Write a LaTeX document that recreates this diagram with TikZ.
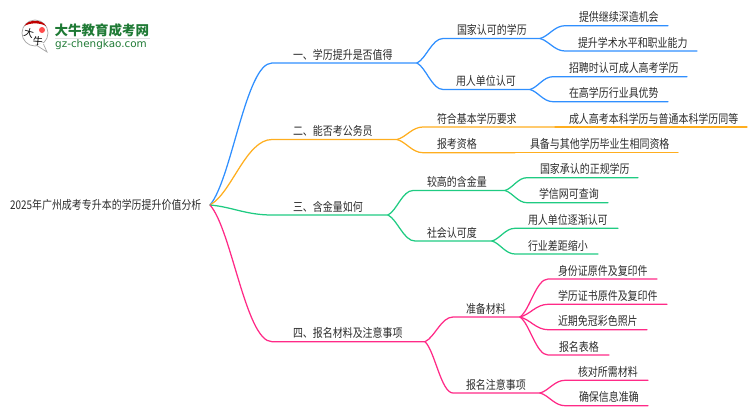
\documentclass[tikz,border=0pt]{standalone}
\usepackage{fontspec}
\setmainfont[FakeStretch=0.83]{Noto Sans CJK SC}
\newfontfamily\plainfont{Noto Sans CJK SC}
\newfontfamily\urlfont{DejaVu Sans}
\usetikzlibrary{calc}
\definecolor{cblue}{HTML}{2F8FFF}
\definecolor{corange}{HTML}{FFAE1F}
\definecolor{cgreen}{HTML}{1FCB82}
\definecolor{cpink}{HTML}{FF2A87}
\definecolor{ctext}{HTML}{2B2B2B}
\definecolor{clogo}{HTML}{1F7A35}
\tikzset{
  mapnode/.style={anchor=south west,inner xsep=0pt,inner ysep=3.9pt,outer sep=0pt,text height=10pt,text depth=0pt,text=ctext,font=\fontsize{12pt}{14pt}\selectfont},
  rootnode/.style={anchor=west,inner sep=0pt,outer sep=0pt,text=ctext,font=\fontsize{12pt}{14pt}\selectfont},
  link/.style={line width=1.25pt,line cap=round,line join=round},
}
% \mn{name}{x0}{x1}{y}{textx}{text}
\newcommand{\mn}[6]{\node[mapnode] (#1) at (#2,#4) {\makebox[\dimexpr #3pt-#2pt\relax][l]{\hspace*{\dimexpr #5pt-#2pt\relax}#6}};}
\begin{document}
\begin{tikzpicture}[x=1pt,y=-1pt]
\useasboundingbox (0,0) rectangle (750,410);
% logo
\fill[white,draw=black!35,line width=0.7pt] (35,33) circle (13);
\fill[white,draw=black!35,line width=0.7pt] (36,45) -- (47,52) -- (43,43) -- cycle;
\fill[white] (37,43.5) -- (44,43) -- (42,46) -- cycle;
\fill[red!75!black] (24.5,26) .. controls (28,19) and (42,19) .. (46,26) .. controls (40,22.5) and (30,22.5) .. (24.5,26) -- cycle;
\fill[red!70] (42,30) circle (3);
\node[inner sep=0pt,font=\plainfont\fontsize{10pt}{10pt}\selectfont,rotate=-15] (logoa) at (29,33) {大};
\node[inner sep=0pt,font=\plainfont\fontsize{10pt}{10pt}\selectfont,rotate=-5] (logob) at (38,41) {牛};
\node[anchor=west,inner sep=0pt,text=clogo,font=\plainfont\fontsize{13.5pt}{14pt}\selectfont\bfseries] (logot) at (54.5,30) {大牛教育成考网};
\draw[black!12,line width=0.8pt] (55,38.5) -- (150,38.5);
\node[anchor=west,inner sep=0pt,text=clogo,font=\urlfont\fontsize{10.4pt}{11pt}\selectfont] (logou) at (55,45) {gz-chengkao.com};
% nodes
\node[rootnode] (root) at (10,205) {\makebox[200pt][l]{\raisebox{-1.4pt}{2025年广州成考专升本的学历提升价值分析}}};
\mn{n1}{272}{417}{63}{293}{一、学历提升是否值得}
\mn{n2}{272}{397}{139.5}{293}{二、能否考公务员}
\mn{n3}{272}{388}{215}{293}{三、含金量如何}
\mn{n4}{272}{425}{341.7}{293}{四、报名材料及注意事项}
\mn{n11}{443}{540}{38.5}{457}{国家认可的学历}
\mn{n12}{443}{530}{89.5}{456}{用人单位认可}
\mn{n111}{565}{668}{25.7}{579}{提供继续深造机会}
\mn{n112}{565}{697}{51}{578}{提升学术水平和职业能力}
\mn{n121}{553}{687}{76.7}{569}{招聘时认可成人高考学历}
\mn{n122}{553}{668}{101.7}{569}{在高学历行业具优势}
\mn{n21}{423}{555}{127}{437}{符合基本学历要求}
\mn{n22}{423}{515}{152.7}{437}{报考资格}
\mn{n211}{555}{747}{127}{569}{成人高考本科学历与普通本科学历同等}
\mn{n221}{515}{678}{152.7}{530}{具备与其他学历毕业生相同资格}
\mn{n31}{413}{505}{190.5}{427}{较高的含金量}
\mn{n32}{415}{492}{241}{427}{社会认可度}
\mn{n311}{527}{638}{177.7}{540}{国家承认的正规学历}
\mn{n312}{527}{608}{202.7}{539}{学信网可查询}
\mn{n321}{515}{618}{228.3}{528}{用人单位逐渐认可}
\mn{n322}{515}{598}{254}{528}{行业差距缩小}
\mn{n41}{453}{520}{317}{466}{准备材料}
\mn{n42}{453}{540}{393}{466}{报名注意事项}
\mn{n411}{548}{657}{279}{558}{身份证原件及复印件}
\mn{n412}{548}{667}{304.3}{558}{学历证书原件及复印件}
\mn{n413}{548}{647}{329.7}{558}{近期免冠彩色照片}
\mn{n414}{548}{609}{355}{559}{报名表格}
\mn{n421}{565}{648}{380.3}{578}{核对所需材料}
\mn{n422}{565}{648}{405.7}{579}{确保信息准确}
% connectors
\newcommand{\rl}[2]{\draw[link,#2] let \p1=(root.east),\p2=(#1.south west) in (\p1) .. controls ({\x1+0.35*(\x2-\x1)},{\y1+0.18*(\y2-\y1)}) and ({\x2-0.42*(\x2-\x1)},\y2) .. (\p2) -- (#1.south east);}
\newcommand{\cl}[3]{\draw[link,#3] let \p1=(#1.south east),\p2=(#2.south west) in (\p1) .. controls ({\x1+0.35*(\x2-\x1)},{\y1+0.18*(\y2-\y1)}) and ({\x2-0.42*(\x2-\x1)},\y2) .. (\p2) -- (#2.south east);}
\rl{n1}{cblue}
\rl{n2}{corange}
\rl{n3}{cgreen}
\rl{n4}{cpink}
\cl{n1}{n11}{cblue}\cl{n1}{n12}{cblue}
\cl{n11}{n111}{cblue}\cl{n11}{n112}{cblue}
\cl{n12}{n121}{cblue}\cl{n12}{n122}{cblue}
\cl{n2}{n21}{corange}\cl{n2}{n22}{corange}
\cl{n21}{n211}{corange}\cl{n22}{n221}{corange}
\cl{n3}{n31}{cgreen}\cl{n3}{n32}{cgreen}
\cl{n31}{n311}{cgreen}\cl{n31}{n312}{cgreen}
\cl{n32}{n321}{cgreen}\cl{n32}{n322}{cgreen}
\cl{n4}{n41}{cpink}\cl{n4}{n42}{cpink}
\cl{n41}{n411}{cpink}\cl{n41}{n412}{cpink}\cl{n41}{n413}{cpink}\cl{n41}{n414}{cpink}
\cl{n42}{n421}{cpink}\cl{n42}{n422}{cpink}
\end{tikzpicture}
\end{document}
